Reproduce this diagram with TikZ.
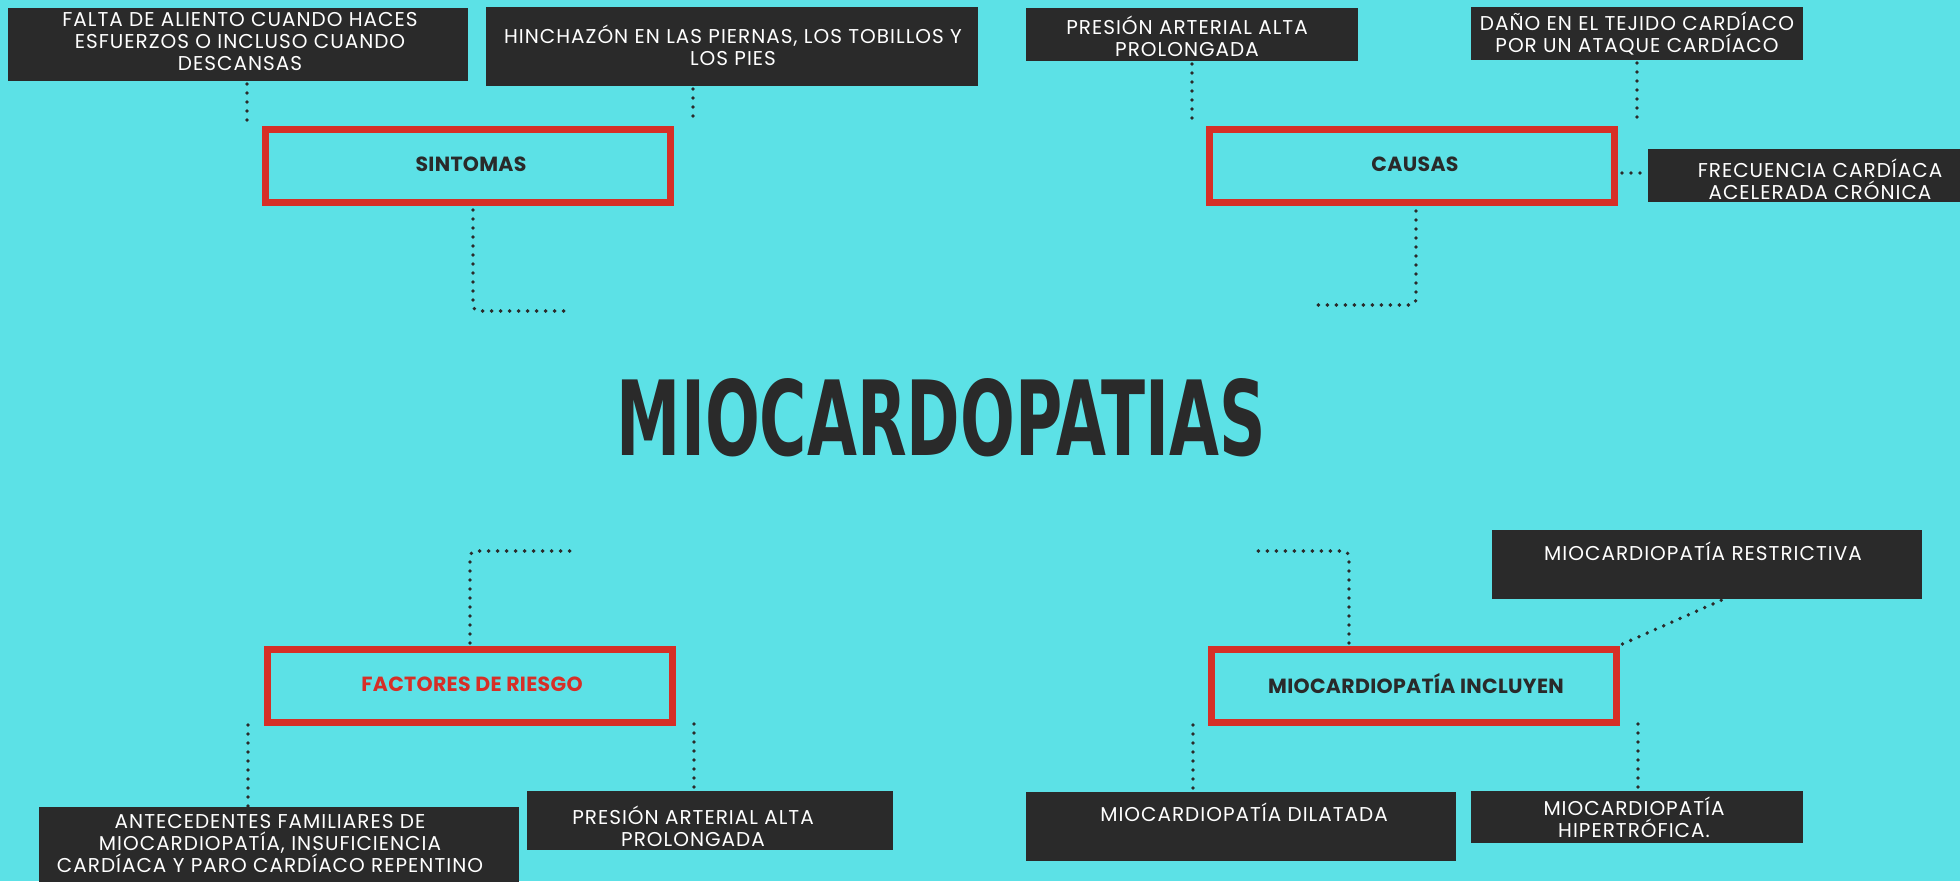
\documentclass[tikz,border=0pt]{standalone}
\usepackage{fontspec}
\newfontfamily\popw{Poppins}[LetterSpace=5]
\newfontfamily\popb{Poppins}[LetterSpace=1.5]
\newfontfamily\titlef{DejaVu Sans}
\definecolor{bgc}{HTML}{5CE1E6}
\definecolor{boxc}{HTML}{2A2A2A}
\definecolor{redc}{HTML}{D62F27}
\definecolor{darkc}{HTML}{2A2A2A}
\newcommand\lsx{\rule[-0.15em]{0pt}{0.85em}}
\tikzset{
  dbox/.style={fill=boxc, draw=none, inner sep=0pt, outer sep=0pt},
  rbox/.style={draw=redc, line width=7pt, fill=none, inner sep=0pt,
    minimum width=405pt, minimum height=73pt},
  rlabel/.style={inner sep=0pt, text=darkc, font=\popb\bfseries\fontsize{20.5}{22}\selectfont},
  wt/.style={text=white, align=center, inner sep=0pt, font=\popw\fontsize{20}{22}\selectfont},
  dots/.style={draw=darkc, line width=3.8pt, line cap=round, dash pattern=on 0pt off 9pt},
}
\begin{document}
\begin{tikzpicture}[x=1pt,y=-1pt]
\fill[bgc] (0,0) rectangle (1960,881);
\useasboundingbox (0,0) rectangle (1960,881);

% dark boxes
\node[dbox, minimum width=460pt, minimum height=73pt] (falta) at (238,44.5) {};
\node[dbox, minimum width=492pt, minimum height=79pt] (hinch) at (732,46.5) {};
\node[dbox, minimum width=332pt, minimum height=53pt] (pres1) at (1192,34.5) {};
\node[dbox, minimum width=332pt, minimum height=53pt] (dano) at (1637,33.5) {};
\node[dbox, minimum width=312pt, minimum height=53pt] (frec) at (1804,175.5) {};
\node[dbox, minimum width=480pt, minimum height=76pt] (antec) at (279,845) {};
\node[dbox, minimum width=366pt, minimum height=59pt] (pres2) at (710,820.5) {};
\node[dbox, minimum width=430pt, minimum height=69pt] (restr) at (1707,564.5) {};
\node[dbox, minimum width=430pt, minimum height=69pt] (dilat) at (1241,826.5) {};
\node[dbox, minimum width=332pt, minimum height=52pt] (hiper) at (1637,817) {};

% texts in dark boxes
\node[wt] (faltaT) at (240,43.3) {\lsx FALTA DE ALIENTO CUANDO HACES\\ESFUERZOS O INCLUSO CUANDO\\\lsx DESCANSAS};
\node[wt] (hinchT) at (733,46.5) {\lsx HINCHAZÓN EN LAS PIERNAS, LOS TOBILLOS Y\\\lsx LOS PIES};
\node[wt] (pres1T) at (1187,38) {\lsx PRESIÓN ARTERIAL ALTA\\\lsx PROLONGADA};
\node[wt] (danoT) at (1637,34) {\lsx DAÑO EN EL TEJIDO CARDÍACO\\\lsx POR UN ATAQUE CARDÍACO};
\node[wt] (frecT) at (1820,181) {\lsx FRECUENCIA CARDÍACA\\\lsx ACELERADA CRÓNICA};
\node[wt] (antecT) at (270,845) {\lsx ANTECEDENTES FAMILIARES DE\\MIOCARDIOPATÍA, INSUFICIENCIA\\\lsx CARDÍACA Y PARO CARDÍACO REPENTINO};
\node[wt] (pres2T) at (693,827.5) {\lsx PRESIÓN ARTERIAL ALTA\\\lsx PROLONGADA};
\node[wt] (restrT) at (1703,553) {\lsx MIOCARDIOPATÍA RESTRICTIVA};
\node[wt] (dilatT) at (1244,814) {\lsx MIOCARDIOPATÍA DILATADA};
\node[wt] (hiperT) at (1634,819) {\lsx MIOCARDIOPATÍA\\\lsx HIPERTRÓFICA.};

% red boxes
\node[rbox] (sint) at (468,166) {};
\node[rbox] (caus) at (1412,166) {};
\node[rbox] (fact) at (469.5,686) {};
\node[rbox] (incl) at (1413.5,686) {};
\node[rlabel] (sintT) at (471,164) {SINTOMAS};
\node[rlabel] (causT) at (1415,164) {CAUSAS};
\node[rlabel, text=redc] (factT) at (472,684) {FACTORES DE RIESGO};
\node[rlabel] (inclT) at (1416,684) {MIOCARDIOPATÍA INCLUYEN};

% title
\node[inner sep=0pt, text=darkc] (title) at (941.5,417.5)
  {\resizebox{649pt}{77pt}{\titlef\bfseries MIOCARDOPATIAS}};

% connector coordinates
\coordinate (c1) at (247,124);
\coordinate (c2) at (693,123);
\coordinate (c3) at (473,311);
\coordinate (c3e) at (567,311);
\coordinate (c4) at (1192,124);
\coordinate (c5) at (1637,123);
\coordinate (c6) at (1620,173);
\coordinate (c7) at (1416,305);
\coordinate (c7e) at (1314,305);
\coordinate (c8) at (470,551);
\coordinate (c8e) at (571,551);
\coordinate (c9) at (248,725);
\coordinate (c10) at (694,724);
\coordinate (c11) at (1349,551);
\coordinate (c11e) at (1253,551);
\coordinate (c12) at (1724,600);
\coordinate (c13) at (1193,725);
\coordinate (c14) at (1638,724);

% connectors
\draw[dots] (falta.south -| c1) ++(0,3) -- (c1);
\draw[dots] (hinch.south -| c2) ++(0,3) -- (c2);
\draw[dots, rounded corners=6pt] (sint.south -| c3) ++(0,4) -- (c3) -- (c3e);
\draw[dots] (pres1.south) ++(0,3) -- (c4);
\draw[dots] (dano.south) ++(0,3) -- (c5);
\draw[dots] (caus.east |- c6) ++(4,0) -- (frec.west |- c6);
\draw[dots, rounded corners=6pt] (caus.south -| c7) ++(0,5) -- (c7) -- (c7e);
\draw[dots, rounded corners=6pt] (fact.north -| c8) ++(0,-3) -- (c8) -- (c8e);
\draw[dots] (c9) -- (antec.north -| c9);
\draw[dots] (c10) -- (pres2.north -| c10);
\draw[dots, rounded corners=6pt] (incl.north -| c11) ++(0,-3) -- (c11) -- (c11e);
\draw[dots] (incl.north east) ++(3,-2) -- (restr.south -| c12);
\draw[dots] (c13) -- (dilat.north -| c13);
\draw[dots] (c14) -- (hiper.north -| c14);
\end{tikzpicture}
\end{document}
